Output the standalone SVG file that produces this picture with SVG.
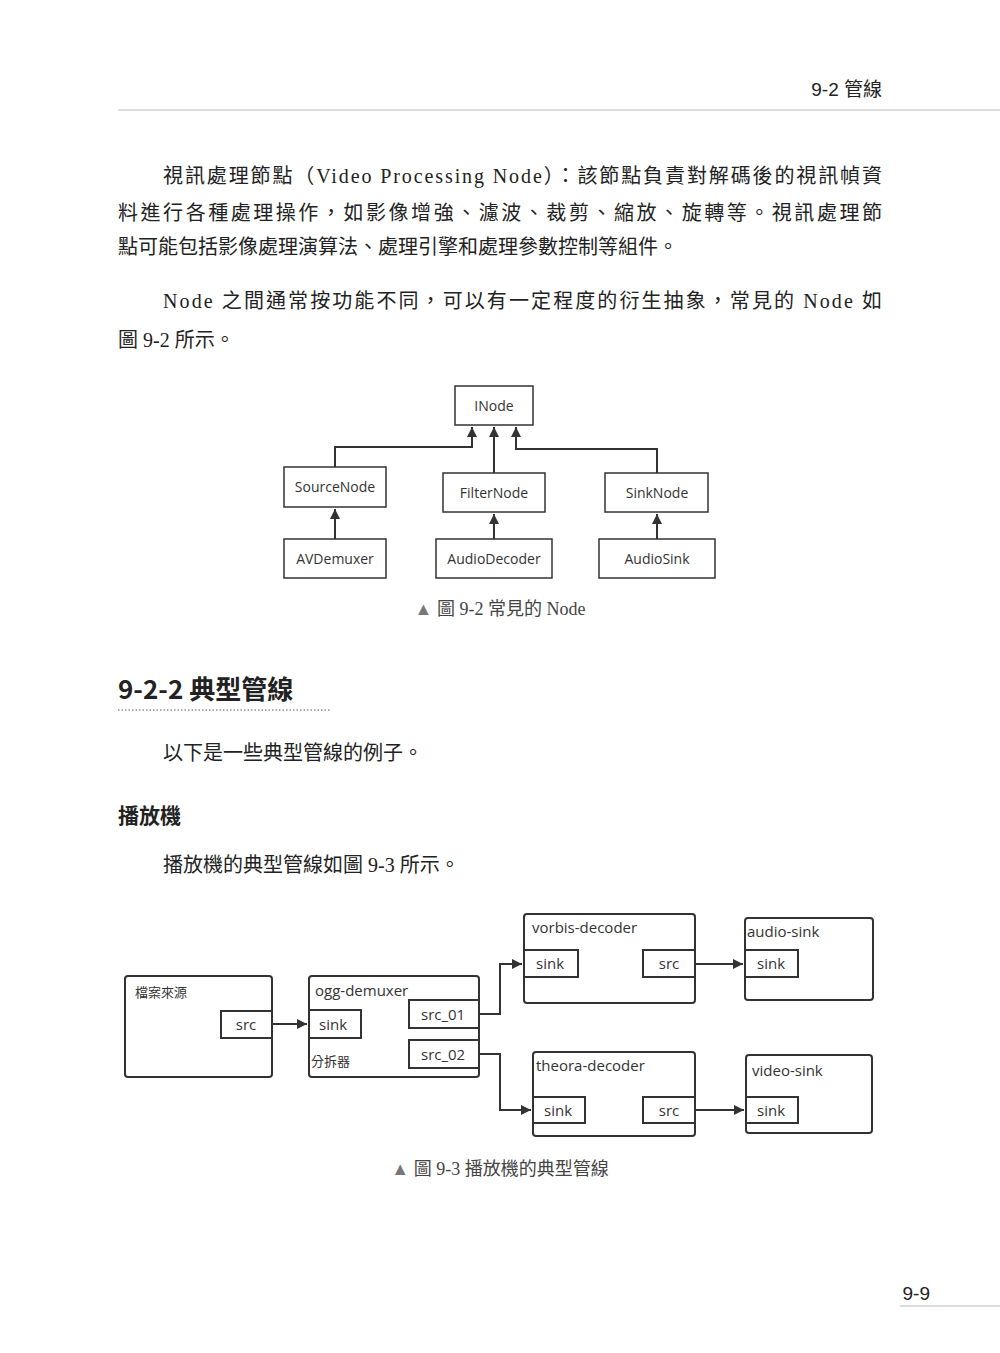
<svg xmlns="http://www.w3.org/2000/svg" width="1000" height="1353" viewBox="0 0 1000 1353">
<style>
.b{font-family:"Liberation Serif","Noto Sans CJK TC",serif;font-size:20px;fill:#222}
.d{font-family:"Open Sans","Noto Sans CJK TC",sans-serif;font-size:14px;fill:#333}
.p{font-family:"Open Sans","Noto Sans CJK TC",sans-serif;font-size:15px;fill:#333}
.n{fill:#fff;stroke:#333;stroke-width:1.5}
.r{fill:#fff;stroke:#333;stroke-width:2}
.c{fill:none;stroke:#333;stroke-width:2}
</style>
<defs><marker id="a" viewBox="0 0 10 10" refX="10" refY="5" markerWidth="5" markerHeight="5" orient="auto"><path d="M0,0L10,5L0,10z" fill="#333"/></marker></defs>
<rect width="1000" height="1353" fill="#fff"/>
<text x="882" y="96" text-anchor="end" style="font-family:'Liberation Sans','Noto Sans CJK TC',sans-serif;font-size:19px;fill:#222">9-2  管線</text>
<line x1="118" y1="110" x2="1000" y2="110" stroke="#bbb"/>
<text class="b" x="163" y="183" textLength="719">視訊處理節點（Video Processing Node）：該節點負責對解碼後的視訊幀資</text>
<text class="b" x="118" y="220" textLength="764">料進行各種處理操作，如影像增強、濾波、裁剪、縮放、旋轉等。視訊處理節</text>
<text class="b" x="118" y="254">點可能包括影像處理演算法、處理引擎和處理參數控制等組件。</text>
<text class="b" x="163" y="308" textLength="719">Node 之間通常按功能不同，可以有一定程度的衍生抽象，常見的 Node 如</text>
<text class="b" x="118" y="347">圖 9-2 所示。</text>
<g id="g1c">
<path class="c" d="M494,473V427" marker-end="url(#a)"/>
<path class="c" d="M335,467V447H472V427" marker-end="url(#a)"/>
<path class="c" d="M657,473V449H516V427" marker-end="url(#a)"/>
<path class="c" d="M335,539V509" marker-end="url(#a)"/>
<path class="c" d="M494,539V514" marker-end="url(#a)"/>
<path class="c" d="M657,539V514" marker-end="url(#a)"/>
</g>
<g id="inode"><rect class="n" x="455" y="386" width="78" height="39"/><text class="d" x="494" y="411" text-anchor="middle">INode</text></g>
<g id="source"><rect class="n" x="284" y="467" width="102" height="40"/><text class="d" x="335" y="492" text-anchor="middle">SourceNode</text></g>
<g id="filter"><rect class="n" x="443" y="473" width="102" height="39"/><text class="d" x="494" y="498" text-anchor="middle">FilterNode</text></g>
<g id="sinknode"><rect class="n" x="605" y="473" width="103" height="39"/><text class="d" x="657" y="498" text-anchor="middle">SinkNode</text></g>
<g id="avd"><rect class="n" x="284" y="539" width="102" height="39"/><text class="d" x="335" y="564" text-anchor="middle">AVDemuxer</text></g>
<g id="adec"><rect class="n" x="436" y="539" width="116" height="39"/><text class="d" x="494" y="564" text-anchor="middle">AudioDecoder</text></g>
<g id="asink"><rect class="n" x="599" y="539" width="116" height="39"/><text class="d" x="657" y="564" text-anchor="middle">AudioSink</text></g>
<text class="b" x="500" y="615" text-anchor="middle" style="font-size:18px;fill:#444"><tspan fill="#777">▲</tspan>  圖 9-2  常見的 Node</text>
<text x="118" y="699" style="font-family:'Noto Sans CJK TC',sans-serif;font-size:26px;font-weight:bold;fill:#222">9-2-2  典型管線</text>
<line x1="118" y1="710" x2="330" y2="710" stroke="#555" stroke-dasharray="1.5,2"/>
<text class="b" x="163" y="760">以下是一些典型管線的例子。</text>
<text x="118" y="823" style="font-family:'Noto Sans CJK TC',sans-serif;font-size:21px;font-weight:bold;fill:#222">播放機</text>
<text class="b" x="163" y="872">播放機的典型管線如圖 9-3 所示。</text>
<g id="g2c">
<path class="c" d="M272,1024H307" marker-end="url(#a)"/>
<path class="c" d="M479,1014H500V964H522" marker-end="url(#a)"/>
<path class="c" d="M479,1054H500V1110H531" marker-end="url(#a)"/>
<path class="c" d="M695,964H743" marker-end="url(#a)"/>
<path class="c" d="M695,1110H744" marker-end="url(#a)"/>
</g>
<g id="file"><rect class="r" x="125" y="976" width="147" height="101" rx="3"/><text class="d" x="135" y="997" style="font-size:13px">檔案來源</text>
<rect class="r" x="221" y="1011" width="51" height="27"/><text class="p" x="246" y="1030" text-anchor="middle">src</text></g>
<g id="ogg"><rect class="r" x="309" y="976" width="170" height="101" rx="3"/><text class="p" x="315" y="996">ogg-demuxer</text>
<rect class="r" x="309" y="1010" width="52" height="28"/><text class="p" x="319" y="1030">sink</text>
<rect class="r" x="409" y="1000" width="70" height="28"/><text class="p" x="421" y="1020">src_01</text>
<rect class="r" x="409" y="1040" width="70" height="28"/><text class="p" x="421" y="1060">src_02</text>
<text class="d" x="311" y="1066" style="font-size:13px">分拆器</text></g>
<g id="vorbis"><rect class="r" x="524" y="914" width="171" height="89" rx="3"/><text class="p" x="532" y="933">vorbis-decoder</text>
<rect class="r" x="524" y="950" width="54" height="27"/><text class="p" x="536" y="969">sink</text>
<rect class="r" x="643" y="950" width="52" height="27"/><text class="p" x="669" y="969" text-anchor="middle">src</text></g>
<g id="audio"><rect class="r" x="745" y="918" width="128" height="82" rx="3"/><text class="p" x="747" y="937">audio-sink</text>
<rect class="r" x="745" y="950" width="53" height="27"/><text class="p" x="757" y="969">sink</text></g>
<g id="theora"><rect class="r" x="533" y="1052" width="162" height="84" rx="3"/><text class="p" x="536" y="1071">theora-decoder</text>
<rect class="r" x="533" y="1097" width="52" height="26"/><text class="p" x="544" y="1116">sink</text>
<rect class="r" x="643" y="1097" width="52" height="26"/><text class="p" x="669" y="1116" text-anchor="middle">src</text></g>
<g id="video"><rect class="r" x="746" y="1055" width="126" height="78" rx="3"/><text class="p" x="752" y="1076">video-sink</text>
<rect class="r" x="746" y="1097" width="52" height="26"/><text class="p" x="757" y="1116">sink</text></g>
<text class="b" x="500" y="1175" text-anchor="middle" style="font-size:18px;fill:#444"><tspan fill="#777">▲</tspan>  圖 9-3  播放機的典型管線</text>
<text x="930" y="1300" text-anchor="end" style="font-family:'Liberation Sans',sans-serif;font-size:19px;fill:#222">9-9</text>
<line x1="900" y1="1306" x2="1000" y2="1306" stroke="#bbb"/>
</svg>
